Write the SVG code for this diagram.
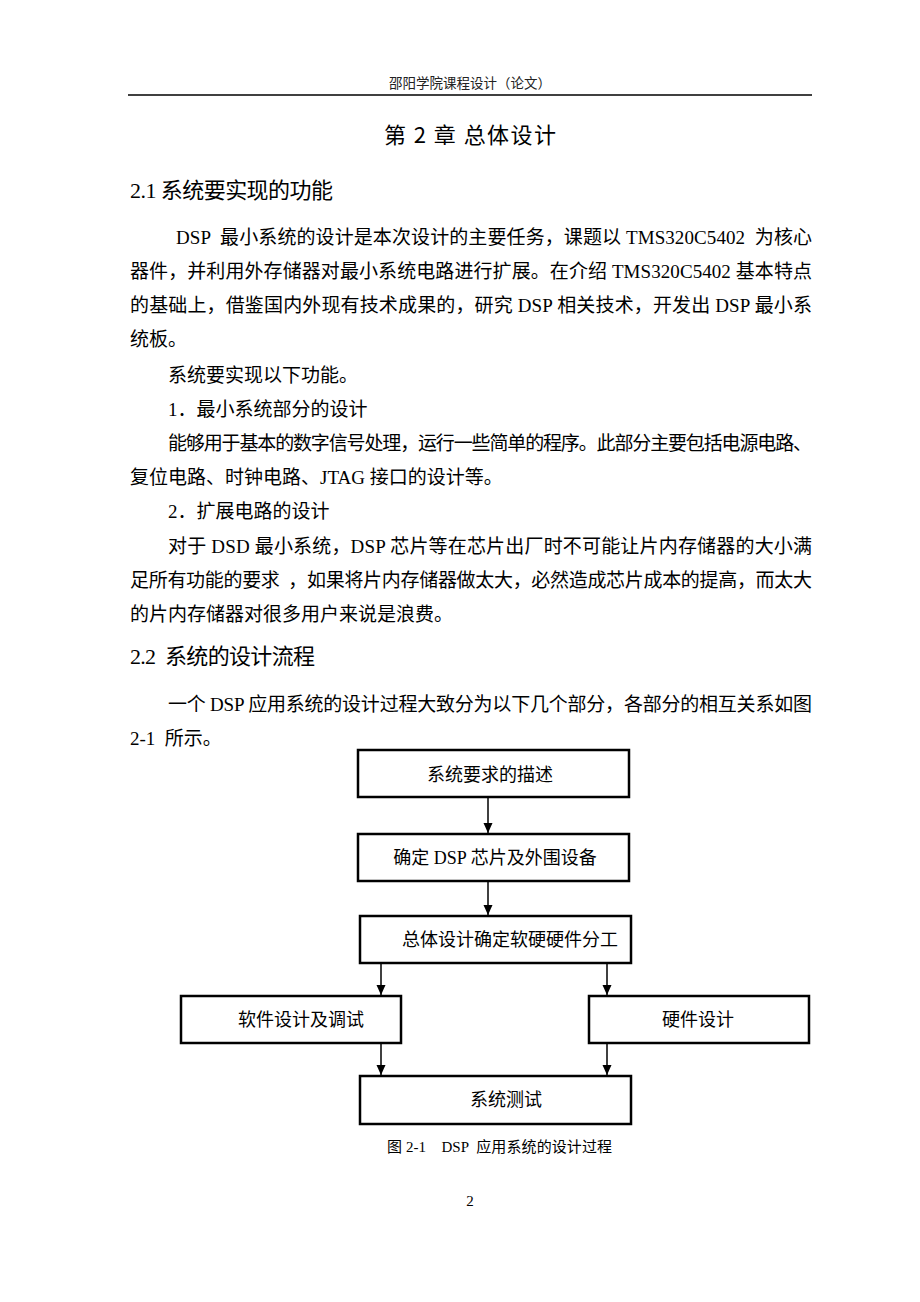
<svg xmlns="http://www.w3.org/2000/svg" width="920" height="1302" viewBox="0 0 920 1302">
<style>
.body{font-family:"Liberation Serif","Noto Sans CJK SC",serif;font-size:19px;fill:#000}
.hdr{font-family:"Noto Sans CJK SC",sans-serif;font-size:13.5px;fill:#222}
.title{font-family:"Noto Sans CJK SC",sans-serif;font-size:22px;fill:#000;font-weight:400}
.sec{font-family:"Liberation Serif","Noto Sans CJK SC",sans-serif;font-size:22px;fill:#000;font-weight:400}
.box{fill:#fff;stroke:#000;stroke-width:2.5}
.lbl{font-family:"Liberation Serif","Noto Sans CJK SC",serif;font-size:18px;fill:#000;text-anchor:middle}
.cap{font-family:"Liberation Serif","Noto Sans CJK SC",serif;font-size:15px;fill:#000}
.conn line{stroke:#000;stroke-width:1.5;marker-end:url(#ah)}
</style>
<defs>
<marker id="ah" markerUnits="userSpaceOnUse" markerWidth="10" markerHeight="10" viewBox="0 0 10 10" refX="10" refY="5" orient="auto">
<path d="M0,0.5 L10,5 L0,9.5 z" fill="#000"/>
</marker>
</defs>
<rect width="920" height="1302" fill="#fff"/>
<g id="header">
<text class="hdr" x="470" y="88" text-anchor="middle">邵阳学院课程设计（论文）</text>
<line x1="128" y1="95" x2="812" y2="95" stroke="#000" stroke-width="1.5"/>
</g>
<g id="title">
<text class="title" x="384" y="143" textLength="172" lengthAdjust="spacing">第 2 章 总体设计</text>
</g>
<g id="text">
<text class="sec" x="130" y="198" textLength="203" lengthAdjust="spacing">2.1 系统要实现的功能</text>
<text class="body" x="176" y="244" textLength="636" lengthAdjust="spacing" xml:space="preserve">DSP  最小系统的设计是本次设计的主要任务，课题以 TMS320C5402  为核心</text>
<text class="body" x="130" y="278" textLength="682" lengthAdjust="spacing">器件，并利用外存储器对最小系统电路进行扩展。在介绍 TMS320C5402 基本特点</text>
<text class="body" x="130" y="312" textLength="682" lengthAdjust="spacing">的基础上，借鉴国内外现有技术成果的，研究 DSP 相关技术，开发出 DSP 最小系</text>
<text class="body" x="130" y="346">统板。</text>
<text class="body" x="168" y="382">系统要实现以下功能。</text>
<text class="body" x="168" y="416">1．最小系统部分的设计</text>
<text class="body" x="168" y="450" textLength="644" lengthAdjust="spacing">能够用于基本的数字信号处理，运行一些简单的程序。此部分主要包括电源电路、</text>
<text class="body" x="130" y="484">复位电路、时钟电路、JTAG 接口的设计等。</text>
<text class="body" x="168" y="518">2．扩展电路的设计</text>
<text class="body" x="168" y="553" textLength="644" lengthAdjust="spacing">对于 DSD 最小系统，DSP 芯片等在芯片出厂时不可能让片内存储器的大小满</text>
<text class="body" x="130" y="587" textLength="682" lengthAdjust="spacing" xml:space="preserve">足所有功能的要求  ，如果将片内存储器做太大，必然造成芯片成本的提高，而太大</text>
<text class="body" x="130" y="621">的片内存储器对很多用户来说是浪费。</text>
<text class="sec" x="130" y="664" textLength="185" lengthAdjust="spacing" xml:space="preserve">2.2  系统的设计流程</text>
<text class="body" x="168" y="711" textLength="644" lengthAdjust="spacing">一个 DSP 应用系统的设计过程大致分为以下几个部分，各部分的相互关系如图</text>
<text class="body" x="130" y="745" xml:space="preserve">2-1  所示。</text>
</g>
<g id="n1">
<rect class="box" x="358" y="750" width="271" height="47"/>
<text class="lbl" x="490" y="781">系统要求的描述</text>
</g>
<g id="n2">
<rect class="box" x="358" y="834" width="271" height="47"/>
<text class="lbl" x="495" y="864">确定 DSP 芯片及外围设备</text>
</g>
<g id="n3">
<rect class="box" x="360" y="916" width="271" height="47"/>
<text class="lbl" x="510" y="946">总体设计确定软硬硬件分工</text>
</g>
<g id="n4">
<rect class="box" x="181" y="996" width="220" height="47"/>
<text class="lbl" x="301" y="1026">软件设计及调试</text>
</g>
<g id="n5">
<rect class="box" x="589" y="996" width="220" height="47"/>
<text class="lbl" x="698" y="1026">硬件设计</text>
</g>
<g id="n6">
<rect class="box" x="360" y="1076" width="271" height="48"/>
<text class="lbl" x="506" y="1106">系统测试</text>
</g>
<g id="connectors" class="conn">
<line x1="488" y1="797" x2="488" y2="833"/>
<line x1="488" y1="881" x2="488" y2="915"/>
<line x1="381" y1="963" x2="381" y2="995"/>
<line x1="607" y1="963" x2="607" y2="995"/>
<line x1="381" y1="1043" x2="381" y2="1075"/>
<line x1="607" y1="1043" x2="607" y2="1075"/>
</g>
<g id="caption">
<text class="cap" x="387" y="1152" textLength="225" lengthAdjust="spacing" xml:space="preserve">图 2-1    DSP  应用系统的设计过程</text>
</g>
<g id="page">
<text class="cap" x="470" y="1206" text-anchor="middle" font-size="14">2</text>
</g>
</svg>
